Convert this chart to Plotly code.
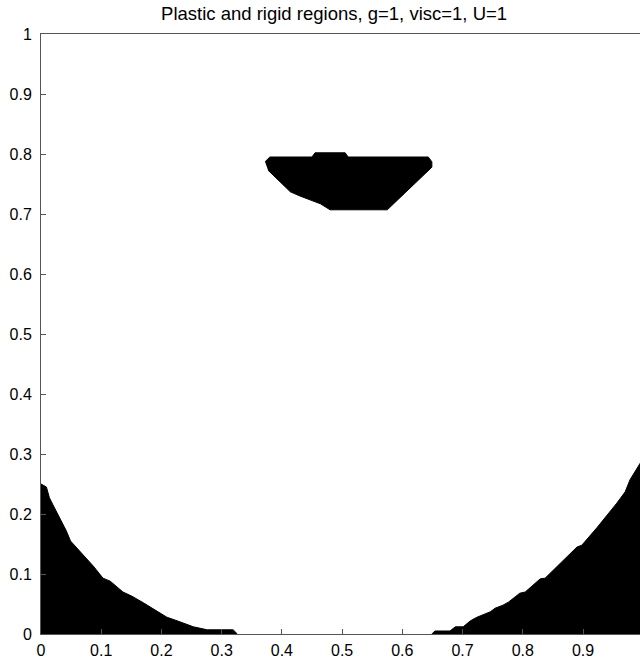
import plotly.graph_objects as go

# Rigid zone boundaries (x, y) in the unit square
top_x = [0.372, 0.380, 0.450, 0.455, 0.505, 0.510, 0.643, 0.649, 0.649,
         0.575, 0.480, 0.464, 0.430, 0.414, 0.377]
top_y = [0.787, 0.795, 0.795, 0.802, 0.802, 0.795, 0.795, 0.787, 0.778,
         0.707, 0.707, 0.717, 0.730, 0.737, 0.773]

left_x = [0.0, 0.0, 0.009, 0.014, 0.020, 0.027, 0.034, 0.042, 0.049, 0.060,
          0.073, 0.087, 0.103, 0.115, 0.136, 0.151, 0.170, 0.186, 0.209,
          0.226, 0.253, 0.276, 0.319, 0.326]
left_y = [0.0, 0.250, 0.245, 0.227, 0.215, 0.202, 0.188, 0.172, 0.155, 0.143,
          0.128, 0.113, 0.093, 0.088, 0.070, 0.063, 0.052, 0.042, 0.028,
          0.022, 0.012, 0.007, 0.007, 0.0]

right_x = [0.649, 0.654, 0.679, 0.688, 0.701, 0.713, 0.724, 0.734, 0.746,
           0.754, 0.767, 0.776, 0.784, 0.795, 0.804, 0.829, 0.837, 0.857,
           0.873, 0.890, 0.898, 0.923, 0.956, 0.970, 0.978, 0.990, 1.0, 1.0]
right_y = [0.0, 0.005, 0.005, 0.012, 0.012, 0.022, 0.028, 0.032, 0.037,
           0.043, 0.048, 0.053, 0.060, 0.068, 0.070, 0.092, 0.093, 0.112,
           0.128, 0.145, 0.148, 0.177, 0.218, 0.237, 0.257, 0.277, 0.293, 0.0]

tick_vals = [i / 10 for i in range(11)]
tick_text = ["0", "0.1", "0.2", "0.3", "0.4", "0.5", "0.6", "0.7", "0.8", "0.9", "1"]

FONT = "Liberation Sans, Arial, sans-serif"

fig = go.Figure()
for xs, ys in [(left_x, left_y), (right_x, right_y), (top_x, top_y)]:
    fig.add_trace(go.Scatter(
        x=xs, y=ys, mode="lines", fill="toself",
        fillcolor="black", line=dict(color="black", width=1),
        hoverinfo="skip", showlegend=False,
    ))

axis_style = dict(
    showgrid=False, zeroline=False, showline=True, linecolor="#555",
    linewidth=1, ticks="inside", ticklen=5, tickcolor="#555",
    tickvals=tick_vals, ticktext=tick_text,
    tickfont=dict(family=FONT, size=16, color="black"),
)

fig.update_layout(
    width=640, height=662,
    margin=dict(l=41, r=0, t=34, b=28, pad=0),
    paper_bgcolor="white", plot_bgcolor="white",
    title=dict(
        text="Plastic and rigid regions, g=1, visc=1, U=1",
        x=0.522, xanchor="center", y=0.98, yanchor="middle",
        font=dict(family=FONT, size=18.5, color="black"),
    ),
    xaxis=dict(range=[0, 0.9946], mirror=True, ticklabelstandoff=2, **axis_style),
    yaxis=dict(range=[0, 1], mirror=False, ticklabelstandoff=5, **axis_style),
)

fig.write_html("out.html")
